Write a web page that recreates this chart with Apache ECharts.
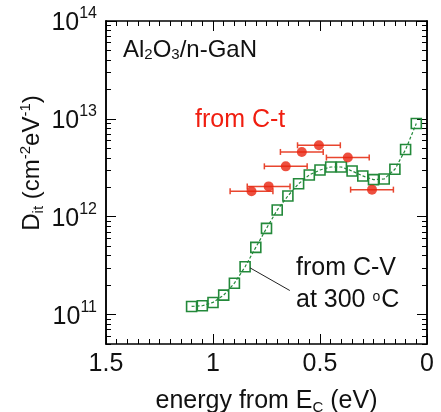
<!DOCTYPE html>
<html>
<head>
<meta charset="utf-8">
<script src="https://cdn.jsdelivr.net/npm/echarts@6/dist/echarts.min.js"></script>
<style>
  html, body { margin: 0; padding: 0; background: #fff; }
  #chart { width: 441px; height: 412px; }
</style>
</head>
<body>
<div id="chart"></div>
<script>
const FONT = 'Liberation Sans, Arial, Helvetica, sans-serif'

// C-V (300 C) data, green hollow squares
const energyCV = [1.10, 1.05, 1.00, 0.95, 0.90, 0.85, 0.80, 0.75, 0.70, 0.65, 0.60, 0.55, 0.50, 0.45, 0.40, 0.35, 0.30, 0.25, 0.20, 0.15, 0.10, 0.05]
const ditCV = [1.21e11, 1.23e11, 1.33e11, 1.58e11, 2.09e11, 3.08e11, 4.86e11, 7.6e11, 1.17e12, 1.63e12, 2.17e12, 2.67e12, 3.0e12, 3.22e12, 3.22e12, 2.93e12, 2.61e12, 2.39e12, 2.43e12, 3.05e12, 4.86e12, 8.97e12]

// C-t data, red dots with horizontal error bars
const energyCt = [0.82, 0.74, 0.66, 0.585, 0.505, 0.37, 0.257]
const ditCt = [1.82e12, 2.04e12, 3.27e12, 4.59e12, 5.37e12, 4.02e12, 1.89e12]
const errCt = [0.1, 0.1, 0.1, 0.1, 0.1, 0.1, 0.1]

// log axis ticks
const yMajor = [1e11, 1e12, 1e13, 1e14]
const yMinor = []
;[1e10, 1e11, 1e12, 1e13].forEach(d => {
  for (let k = 2; k <= 9; k++) yMinor.push(k * d)
})

const green = '#23893a'
const red = '#e8230f'

const myChart = echarts.init(document.getElementById('chart'))

const cvData = energyCV.map((e, i) => [e, ditCV[i]])
const ctData = energyCt.map((e, i) => [e, ditCt[i]])
const errData = energyCt.map((e, i) => [e - errCt[i], e + errCt[i], ditCt[i]])

const tickLine = { color: '#000', width: 1 }
const frameLine = { show: true, onZero: false, lineStyle: { color: '#000', width: 1.5 } }
const yBase = {
  type: 'log',
  min: 5e10,
  max: 1e14,
  splitLine: { show: false },
  axisLine: frameLine,
  axisLabel: { show: false }
}
const xBase = {
  type: 'value',
  inverse: true,
  min: 0,
  max: 1.5,
  interval: 0.5,
  splitLine: { show: false },
  axisLine: frameLine,
  axisTick: { show: true, inside: true, length: 10, lineStyle: tickLine },
  minorTick: { show: true, splitNumber: 10, length: 5, lineStyle: tickLine }
}

myChart.setOption({
  animation: false,
  grid: { left: 106, right: 14, top: 21, bottom: 68, outerBoundsMode: 'none', containLabel: false },
  xAxis: [Object.assign({}, xBase, {
    position: 'bottom',
    axisLabel: { color: '#111', fontSize: 25, fontFamily: FONT, margin: 8 },
    name: '{n|energy from E}{s|C}{n| (eV)}',
    nameLocation: 'middle',
    nameGap: 43,
    nameTextStyle: {
      rich: {
        n: { fontSize: 25, fontFamily: FONT, color: '#111', lineHeight: 28 },
        s: { fontSize: 15, fontFamily: FONT, color: '#111', verticalAlign: 'bottom', lineHeight: 22 }
      }
    }
  }), Object.assign({}, xBase, {
    position: 'top',
    axisLabel: { show: false }
  })],
  yAxis: [Object.assign({}, yBase, {
    position: 'left',
    axisTick: { show: true, inside: true, length: 10, customValues: yMajor, lineStyle: tickLine },
    axisLabel: {
      customValues: yMajor,
      margin: 9,
      formatter: v => '{b|10}{s|' + Math.round(Math.log10(v)) + '}',
      rich: {
        b: { fontSize: 25, fontFamily: FONT, color: '#111', lineHeight: 30, verticalAlign: 'bottom' },
        s: { fontSize: 16, fontFamily: FONT, color: '#111', lineHeight: 30, verticalAlign: 'top' }
      }
    }
  }), Object.assign({}, yBase, {
    position: 'left',
    axisTick: { show: true, inside: true, length: 5, customValues: yMinor, lineStyle: tickLine }
  }), Object.assign({}, yBase, {
    position: 'right',
    axisTick: { show: true, inside: true, length: 10, customValues: yMajor, lineStyle: tickLine }
  }), Object.assign({}, yBase, {
    position: 'right',
    axisTick: { show: true, inside: true, length: 5, customValues: yMinor, lineStyle: tickLine }
  })],
  series: [{
    name: 'from C-V',
    type: 'line',
    data: cvData,
    symbol: 'rect',
    symbolSize: 10,
    showSymbol: true,
    lineStyle: { color: green, width: 1.2, type: [3, 2] },
    itemStyle: { color: 'rgba(0,0,0,0)', borderColor: green, borderWidth: 1.6 },
    z: 3,
    markLine: {
      silent: true,
      symbol: 'none',
      label: { show: false },
      lineStyle: { color: '#222', width: 1, type: 'solid' },
      data: [[{ coord: [0.827, 3.0e11] }, { coord: [0.641, 1.76e11] }]]
    }
  }, {
    name: 'errorbar',
    type: 'custom',
    data: errData,
    renderItem: (params, api) => {
      const p1 = api.coord([api.value(0), api.value(2)])
      const p2 = api.coord([api.value(1), api.value(2)])
      const h = 3
      const style = { stroke: '#e8452e', lineWidth: 1.5 }
      return {
        type: 'group',
        children: [
          { type: 'line', shape: { x1: p1[0], y1: p1[1], x2: p2[0], y2: p2[1] }, style },
          { type: 'line', shape: { x1: p1[0], y1: p1[1] - h, x2: p1[0], y2: p1[1] + h }, style },
          { type: 'line', shape: { x1: p2[0], y1: p2[1] - h, x2: p2[0], y2: p2[1] + h }, style }
        ]
      }
    },
    encode: { x: [0, 1], y: 2 },
    z: 4
  }, {
    name: 'from C-t',
    type: 'scatter',
    data: ctData,
    symbol: 'circle',
    symbolSize: 10,
    itemStyle: { color: red },
    z: 5
  }],
  graphic: [{
    type: 'text',
    left: 123,
    top: 38,
    style: {
      text: '{a|Al}{s|2}{a|O}{s|3}{a|/n-GaN}',
      rich: {
        a: { fontSize: 24, fontFamily: FONT, fill: '#111', lineHeight: 26, verticalAlign: 'bottom' },
        s: { fontSize: 15, fontFamily: FONT, fill: '#111', lineHeight: 22, verticalAlign: 'bottom' }
      }
    }
  }, {
    type: 'text',
    left: 195,
    top: 108,
    style: { text: 'from C-t', fontSize: 25, fontFamily: FONT, fill: '#f01e10' }
  }, {
    type: 'text',
    left: 296,
    top: 256,
    style: { text: 'from C-V', fontSize: 25, fontFamily: FONT, fill: '#111' }
  }, {
    type: 'text',
    left: 296,
    top: 288,
    style: {
      text: '{a|at 300 }{o|o}{a|C}',
      rich: {
        a: { fontSize: 25, fontFamily: FONT, fill: '#111', lineHeight: 28 },
        o: { fontSize: 14, fontFamily: FONT, fill: '#111', lineHeight: 28, padding: [0, 1, 6, 0] }
      }
    }
  }, {
    type: 'text',
    x: 32,
    y: 163,
    rotation: Math.PI / 2,
    style: {
      text: '{a|D}{b|it}{a| (cm}{c|-2}{a|eV}{c|-1}{a|)}',
      align: 'center',
      verticalAlign: 'middle',
      rich: {
        a: { fontSize: 24, fontFamily: FONT, fill: '#111', lineHeight: 28 },
        b: { fontSize: 15, fontFamily: FONT, fill: '#111', lineHeight: 28, verticalAlign: 'bottom' },
        c: { fontSize: 15, fontFamily: FONT, fill: '#111', lineHeight: 28, verticalAlign: 'top' }
      }
    }
  }]
})
</script>
</body>
</html>
